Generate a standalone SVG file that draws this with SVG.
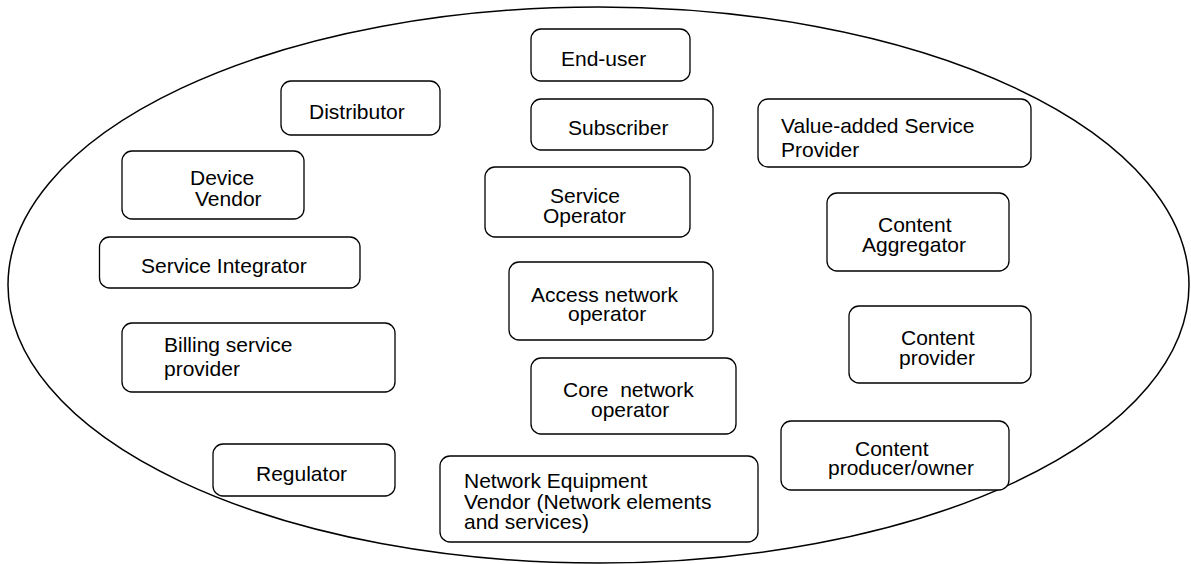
<svg xmlns="http://www.w3.org/2000/svg" width="1191" height="564" viewBox="0 0 1191 564">
  <style>
    .box { fill: #ffffff; stroke: #000000; stroke-width: 1.3; }
    .lbl { font-family: "Liberation Sans", Arial, sans-serif; font-size: 21px; fill: #000000; white-space: pre; }
    .boundary { fill: none; stroke: #000000; stroke-width: 1.5; }
  </style>
  <rect width="1191" height="564" fill="#ffffff"/>

  <!-- outer boundary of the ecosystem -->
  <ellipse class="boundary" cx="598.5" cy="285" rx="590.5" ry="278"/>

  <!-- connectors: none drawn -->
  <g id="connectors"/>

  <g id="end-user">
    <rect class="box" x="531" y="29" width="159" height="52" rx="10"/>
    <text class="lbl" x="561" y="66">End-user</text>
  </g>

  <g id="distributor">
    <rect class="box" x="281" y="81" width="159" height="54" rx="10"/>
    <text class="lbl" x="309" y="119">Distributor</text>
  </g>

  <g id="subscriber">
    <rect class="box" x="531" y="99" width="182" height="51" rx="10"/>
    <text class="lbl" x="568" y="135">Subscriber</text>
  </g>

  <g id="value-added-service-provider">
    <rect class="box" x="758" y="99" width="273" height="68" rx="10"/>
    <text class="lbl" x="781" y="133">Value-added Service<tspan x="781" dy="24">Provider</tspan></text>
  </g>

  <g id="device-vendor">
    <rect class="box" x="122" y="151" width="182" height="68" rx="10"/>
    <text class="lbl" x="190" y="185">Device<tspan x="195" dy="21">Vendor</tspan></text>
  </g>

  <g id="service-operator">
    <rect class="box" x="485" y="167" width="205" height="70" rx="10"/>
    <text class="lbl" x="550" y="203">Service<tspan x="543" dy="20">Operator</tspan></text>
  </g>

  <g id="content-aggregator">
    <rect class="box" x="827" y="193" width="182" height="78" rx="10"/>
    <text class="lbl" x="878" y="232">Content<tspan x="862" dy="20">Aggregator</tspan></text>
  </g>

  <g id="service-integrator">
    <rect class="box" x="99.5" y="237" width="260.5" height="51" rx="10"/>
    <text class="lbl" x="141" y="273">Service Integrator</text>
  </g>

  <g id="access-network-operator">
    <rect class="box" x="509" y="262" width="204" height="78" rx="10"/>
    <text class="lbl" x="531" y="302">Access network<tspan x="568" dy="19">operator</tspan></text>
  </g>

  <g id="content-provider">
    <rect class="box" x="849" y="306" width="182" height="77" rx="10"/>
    <text class="lbl" x="901" y="345">Content<tspan x="899" dy="20">provider</tspan></text>
  </g>

  <g id="billing-service-provider">
    <rect class="box" x="122" y="323" width="273" height="69" rx="10"/>
    <text class="lbl" x="164" y="352">Billing service<tspan x="164" dy="24">provider</tspan></text>
  </g>

  <g id="core-network-operator">
    <rect class="box" x="531" y="358" width="205" height="76" rx="10"/>
    <text class="lbl" x="563" y="397">Core  network<tspan x="591" dy="20">operator</tspan></text>
  </g>

  <g id="content-producer-owner">
    <rect class="box" x="781" y="421" width="228" height="69" rx="10"/>
    <text class="lbl" x="855" y="456">Content<tspan x="828" dy="19">producer/owner</tspan></text>
  </g>

  <g id="regulator">
    <rect class="box" x="213" y="444" width="182" height="52" rx="10"/>
    <text class="lbl" x="256" y="481">Regulator</text>
  </g>

  <g id="network-equipment-vendor">
    <rect class="box" x="440" y="456" width="318" height="86" rx="10"/>
    <text class="lbl" x="464" y="488">Network Equipment<tspan x="464" dy="21">Vendor (Network elements</tspan><tspan x="464" dy="20">and services)</tspan></text>
  </g>
</svg>
